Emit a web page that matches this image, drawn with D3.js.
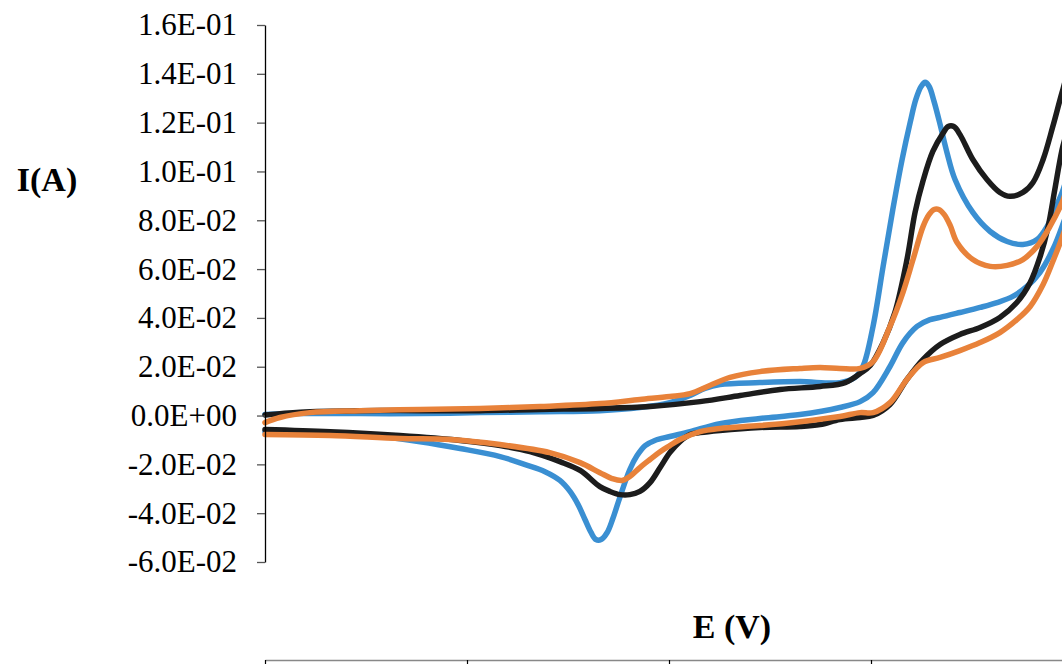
<!DOCTYPE html>
<html>
<head>
<meta charset="utf-8">
<script src="https://cdn.jsdelivr.net/npm/d3@7/dist/d3.min.js"></script>
<style>
  html, body { margin: 0; padding: 0; background: #fff; }
  svg { display: block; }
</style>
</head>
<body>
<svg id="chart" width="1062" height="664"></svg>
<script>
// Cyclic voltammograms: current I (A) against potential E (V).
// Each trace runs along the forward sweep, then back along the reverse sweep.

const yTicks = [-0.06, -0.04, -0.02, 0, 0.02, 0.04, 0.06, 0.08, 0.10, 0.12, 0.14, 0.16];
const yTickLabels = ["-6.0E-02", "-4.0E-02", "-2.0E-02", "0.0E+00", "2.0E-02", "4.0E-02",
                     "6.0E-02", "8.0E-02", "1.0E-01", "1.2E-01", "1.4E-01", "1.6E-01"];
const xTicks = [-1.0, -0.5, 0.0, 0.5, 1.0];

// [E (V), I (A)]
const blueCurve = [
  [-1.000, 0.0004], [-0.913, 0.0008], [-0.765, 0.0008], [-0.616, 0.0008], [-0.468, 0.0012],
  [-0.319, 0.0016], [-0.171, 0.0020], [-0.072, 0.0033], [0.002, 0.0053], [0.052, 0.0082],
  [0.089, 0.0111], [0.126, 0.0127], [0.225, 0.0135], [0.324, 0.0139], [0.423, 0.0135],
  [0.460, 0.0156], [0.480, 0.0201], [0.505, 0.0365], [0.530, 0.0611], [0.554, 0.0844],
  [0.577, 0.1049], [0.597, 0.1201], [0.611, 0.1295], [0.624, 0.1348], [0.634, 0.1365],
  [0.644, 0.1348], [0.656, 0.1287], [0.671, 0.1193], [0.688, 0.1078], [0.708, 0.0967],
  [0.752, 0.0832], [0.795, 0.0754], [0.837, 0.0713], [0.876, 0.0701], [0.911, 0.0721],
  [0.936, 0.0775], [0.955, 0.0844], [0.973, 0.0914], [0.998, 0.1029],
  [0.998, 0.0906], [0.973, 0.0775], [0.950, 0.0680], [0.918, 0.0586], [0.886, 0.0529],
  [0.851, 0.0488], [0.812, 0.0463], [0.770, 0.0443], [0.720, 0.0422], [0.671, 0.0402],
  [0.646, 0.0393], [0.614, 0.0365], [0.579, 0.0299], [0.547, 0.0201], [0.505, 0.0094],
  [0.473, 0.0057], [0.423, 0.0033], [0.324, 0.0004], [0.225, -0.0012], [0.126, -0.0033],
  [0.052, -0.0066], [0.002, -0.0086], [-0.035, -0.0102], [-0.059, -0.0123], [-0.079, -0.0164],
  [-0.097, -0.0221], [-0.121, -0.0332], [-0.139, -0.0422], [-0.153, -0.0479], [-0.168, -0.0508],
  [-0.181, -0.0508], [-0.193, -0.0479], [-0.208, -0.0426], [-0.225, -0.0365], [-0.245, -0.0311],
  [-0.270, -0.0266], [-0.307, -0.0230], [-0.356, -0.0201], [-0.418, -0.0168], [-0.517, -0.0135],
  [-0.616, -0.0107], [-0.715, -0.0086], [-0.839, -0.0074], [-1.000, -0.0066]
];

const blackCurve = [
  [-1.000, 0.0002], [-0.913, 0.0014], [-0.765, 0.0020], [-0.616, 0.0020], [-0.468, 0.0020],
  [-0.319, 0.0025], [-0.171, 0.0029], [-0.047, 0.0037], [0.077, 0.0057], [0.176, 0.0082],
  [0.275, 0.0107], [0.374, 0.0119], [0.436, 0.0135], [0.473, 0.0172], [0.498, 0.0205],
  [0.530, 0.0299], [0.559, 0.0422], [0.589, 0.0639], [0.609, 0.0832], [0.629, 0.0963],
  [0.653, 0.1082], [0.678, 0.1156], [0.691, 0.1184], [0.705, 0.1184], [0.720, 0.1152],
  [0.752, 0.1049], [0.787, 0.0967], [0.819, 0.0914], [0.844, 0.0898], [0.876, 0.0914],
  [0.901, 0.0955], [0.926, 0.1049], [0.950, 0.1184], [0.973, 0.1324], [0.998, 0.1459],
  [0.998, 0.1254], [0.973, 0.1090], [0.955, 0.0926], [0.938, 0.0770], [0.918, 0.0648],
  [0.894, 0.0545], [0.861, 0.0463], [0.819, 0.0402], [0.770, 0.0361], [0.720, 0.0332],
  [0.671, 0.0291], [0.629, 0.0230], [0.589, 0.0148], [0.547, 0.0045], [0.505, 0.0000],
  [0.473, -0.0008], [0.423, -0.0016], [0.374, -0.0037], [0.324, -0.0045], [0.225, -0.0049],
  [0.126, -0.0061], [0.077, -0.0070], [0.052, -0.0078], [0.027, -0.0107], [0.002, -0.0152],
  [-0.022, -0.0213], [-0.047, -0.0275], [-0.072, -0.0311], [-0.097, -0.0324], [-0.121, -0.0324],
  [-0.146, -0.0311], [-0.171, -0.0291], [-0.220, -0.0225], [-0.270, -0.0189], [-0.344, -0.0148],
  [-0.418, -0.0123], [-0.517, -0.0102], [-0.666, -0.0082], [-0.839, -0.0066], [-1.000, -0.0057]
];

const orangeCurve = [
  [-1.000, -0.0029], [-0.963, -0.0008], [-0.889, 0.0012], [-0.765, 0.0020], [-0.616, 0.0025],
  [-0.468, 0.0029], [-0.319, 0.0037], [-0.171, 0.0049], [-0.072, 0.0066], [0.002, 0.0078],
  [0.052, 0.0090], [0.101, 0.0123], [0.151, 0.0156], [0.225, 0.0180], [0.324, 0.0193],
  [0.374, 0.0197], [0.423, 0.0193], [0.473, 0.0193], [0.505, 0.0221], [0.547, 0.0365],
  [0.579, 0.0504], [0.604, 0.0639], [0.629, 0.0775], [0.644, 0.0824], [0.656, 0.0844],
  [0.668, 0.0844], [0.681, 0.0824], [0.696, 0.0779], [0.713, 0.0709], [0.752, 0.0639],
  [0.795, 0.0611], [0.837, 0.0615], [0.876, 0.0639], [0.911, 0.0693], [0.943, 0.0775],
  [0.973, 0.0873], [0.998, 0.0988],
  [0.998, 0.0865], [0.973, 0.0730], [0.950, 0.0631], [0.926, 0.0537], [0.894, 0.0447],
  [0.861, 0.0393], [0.819, 0.0340], [0.770, 0.0299], [0.720, 0.0266], [0.671, 0.0238],
  [0.629, 0.0217], [0.589, 0.0148], [0.547, 0.0053], [0.505, 0.0012], [0.473, 0.0012],
  [0.423, -0.0004], [0.324, -0.0025], [0.225, -0.0041], [0.126, -0.0053], [0.077, -0.0066],
  [0.027, -0.0098], [0.002, -0.0123], [-0.022, -0.0148], [-0.047, -0.0180], [-0.072, -0.0213],
  [-0.097, -0.0250], [-0.116, -0.0266], [-0.141, -0.0258], [-0.171, -0.0234], [-0.220, -0.0193],
  [-0.295, -0.0152], [-0.418, -0.0119], [-0.542, -0.0098], [-0.666, -0.0094], [-0.839, -0.0082],
  [-1.000, -0.0078]
];

const seriesNames = ["blue", "black", "orange"];
const seriesColors = ["#3a8fd2", "#1c1c1c", "#e8823a"];
const seriesData = [blueCurve, blackCurve, orangeCurve];

const svg = d3.select("#chart");
const W = 1062, H = 664;
svg.append("rect").attr("width", W).attr("height", H).attr("fill", "#fff");

const plot = { left: 265, top: 25, bottom: 562, right: 1073 };

const x = d3.scaleLinear().domain([-1.0, 1.0]).range([plot.left, plot.right]);
const y = d3.scaleLinear().domain([-0.06, 0.16]).range([plot.bottom, plot.top]);

const serif = "'Liberation Serif', 'Times New Roman', serif";

// Traces
const line = d3.line()
  .x(d => x(d[0]))
  .y(d => y(d[1]))
  .curve(d3.curveCatmullRom.alpha(0.5));

svg.append("g")
  .selectAll("path")
  .data(seriesData)
  .join("path")
  .attr("class", (d, i) => "trace " + seriesNames[i])
  .attr("d", line)
  .attr("fill", "none")
  .attr("stroke", (d, i) => seriesColors[i])
  .attr("stroke-width", 5.5)
  .attr("stroke-linejoin", "round")
  .attr("stroke-linecap", "round");

// Vertical current axis
const yAxis = d3.axisLeft(y)
  .tickValues(yTicks)
  .tickFormat((d, i) => yTickLabels[i])
  .tickSizeOuter(0)
  .tickSizeInner(8)
  .tickPadding(20);

const gy = svg.append("g")
  .attr("transform", `translate(${plot.left},0)`)
  .call(yAxis);
gy.select(".domain").attr("stroke", "#000").attr("stroke-width", 1.3);
gy.selectAll(".tick line").attr("stroke", "#555").attr("stroke-width", 1.3);
gy.selectAll(".tick text")
  .attr("font-family", serif)
  .attr("font-size", 31)
  .attr("fill", "#000");

// Potential axis along the bottom edge
const xAxis = d3.axisBottom(x)
  .tickValues(xTicks)
  .tickFormat(() => "")
  .tickSizeOuter(0)
  .tickSizeInner(8);

const gx = svg.append("g")
  .attr("transform", "translate(0,660)")
  .call(xAxis);
gx.select(".domain").attr("stroke", "#888").attr("stroke-width", 1.5);
gx.selectAll(".tick line").attr("stroke", "#000").attr("stroke-width", 1.2);

// Axis titles
svg.append("text")
  .attr("x", 47)
  .attr("y", 191)
  .attr("text-anchor", "middle")
  .attr("font-family", serif)
  .attr("font-weight", "bold")
  .attr("font-size", 34)
  .text("I(A)");

svg.append("text")
  .attr("x", 732)
  .attr("y", 638)
  .attr("text-anchor", "middle")
  .attr("font-family", serif)
  .attr("font-weight", "bold")
  .attr("font-size", 34)
  .text("E (V)");
</script>
</body>
</html>
